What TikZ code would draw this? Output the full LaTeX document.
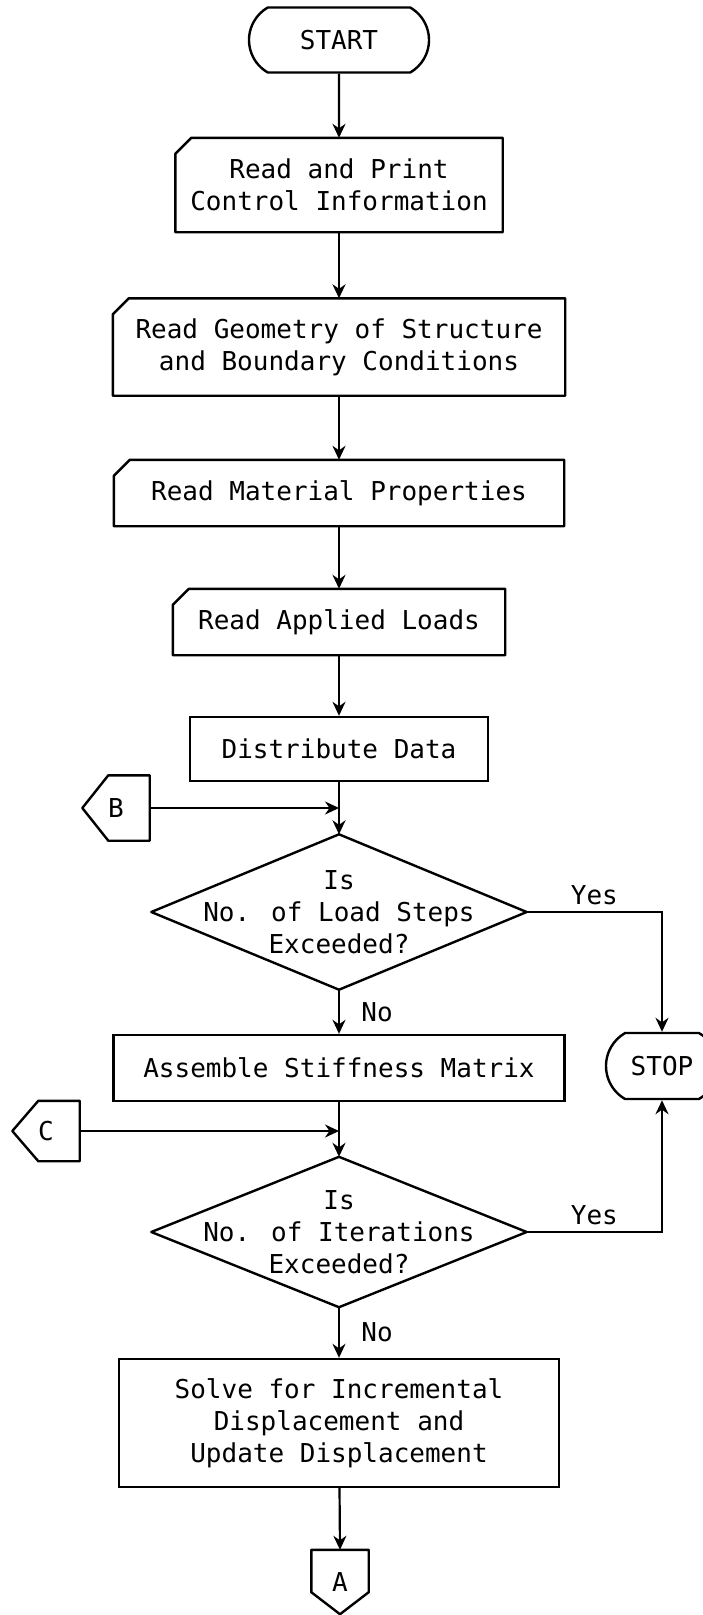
\documentclass[tikz,border=0pt]{standalone}
\usepackage{fontspec}
\setmainfont{DejaVu Sans Mono}
\usetikzlibrary{shapes.misc,arrows.meta}

\tikzset{
    flowfont/.style={font=\fontsize{26pt}{32pt}\selectfont, align=center},
    termnode/.style={flowfont, rounded rectangle, rounded rectangle arc length=120, draw, line width=2.4pt, minimum height=65pt, inner sep=0pt},
    cardnode/.style={flowfont, rectangle, minimum height=66pt, inner sep=0pt},
    procnode/.style={flowfont, rectangle, draw, line width=2.4pt, minimum height=66pt, inner sep=0pt},
    decnode/.style={flowfont, rectangle, minimum width=375pt, inner sep=0pt},
    offnode/.style={flowfont, rectangle, inner sep=0pt},
    outline/.style={line width=2.4pt, line join=round},
    flowarrow/.style={line width=2.2pt, -{Stealth[length=14pt,width=13pt]}},
}

\begin{document}
\begin{tikzpicture}[x=1pt, y=1pt]%% flow chart
            \useasboundingbox (0,0) rectangle (702,-1615);

            % main column
                \node[termnode, minimum width=180pt] (start) at (339,-40) {START};
                \node[cardnode, minimum width=327pt, minimum height=94pt] (ctrl) at (339,-185) {Read and Print\\Control Information};
                \node[cardnode, minimum width=452pt, minimum height=97pt] (geom) at (339,-347) {Read Geometry of Structure\\and Boundary Conditions};
                \node[cardnode, minimum width=450pt] (matl) at (339,-493) {Read Material Properties};
                \node[cardnode, minimum width=332pt] (load) at (339,-622) {Read Applied Loads};
                \node[procnode, minimum width=298pt, minimum height=64pt] (dist) at (339,-749) {Distribute Data};
                \node[decnode, minimum height=155pt] (ldstep) at (339,-912) {Is\\No. of Load Steps\\Exceeded?};
                \node[procnode, minimum width=451pt] (asm) at (339,-1068) {Assemble Stiffness Matrix};
                \node[decnode, minimum height=150pt] (iter) at (339,-1232) {Is\\No. of Iterations\\Exceeded?};
                \node[procnode, minimum width=440pt, minimum height=128pt] (solve) at (339,-1423) {Solve for Incremental\\Displacement and\\Update Displacement};

            % connectors and stop
                \node[termnode, minimum width=112pt, minimum height=66pt] (stop) at (662,-1066) {STOP};
                \node[offnode, minimum width=67pt, minimum height=65pt] (conB) at (116,-808) {B};
                \node[offnode, minimum width=67pt, minimum height=60pt] (conC) at (46,-1131) {C};
                \node[offnode, minimum width=57pt, minimum height=64pt] (conA) at (340,-1582) {A};

            % outlines
                \foreach \n in {ctrl,geom,matl,load}
                    \draw[outline] ([yshift=-16pt]\n.north west) -- ([xshift=16pt]\n.north west) -- (\n.north east) -- (\n.south east) -- (\n.south west) -- cycle;
                \foreach \n in {ldstep,iter}
                    \draw[outline] (\n.north) -- (\n.east) -- (\n.south) -- (\n.west) -- cycle;
                \foreach \n in {conB,conC}
                    \draw[outline] (\n.north east) -- ([xshift=26pt]\n.north west) -- (\n.west) -- ([xshift=26pt]\n.south west) -- (\n.south east) -- cycle;
                \draw[outline] (conA.north west) -- (conA.north east) -- ([yshift=22pt]conA.south east) -- (conA.south) -- ([yshift=22pt]conA.south west) -- cycle;

            % arrows
                \draw[flowarrow] (start) -- (ctrl);
                \draw[flowarrow] (ctrl) -- (geom);
                \draw[flowarrow] (geom) -- (matl);
                \draw[flowarrow] (matl) -- (load);
                \draw[flowarrow] (load) -- (dist);
                \draw[flowarrow] (dist) -- (ldstep.north);
                \draw[flowarrow] (conB.east) -- (conB.east -| ldstep.north);
                \draw[flowarrow] (ldstep.east) -| (stop.north) node[pos=0.25, above=3pt, flowfont] {Yes};
                \draw[flowarrow] (ldstep.south) -- (asm) node[midway, right=18pt, flowfont] {No};
                \draw[flowarrow] (asm) -- (iter.north);
                \draw[flowarrow] (conC.east) -- (conC.east -| iter.north);
                \draw[flowarrow] (iter.east) -| (stop.south) node[pos=0.25, above=3pt, flowfont] {Yes};
                \draw[flowarrow] (iter.south) -- (solve) node[midway, right=18pt, flowfont] {No};
                \draw[flowarrow] (solve) -- (conA.north);

\end{tikzpicture}
\end{document}
